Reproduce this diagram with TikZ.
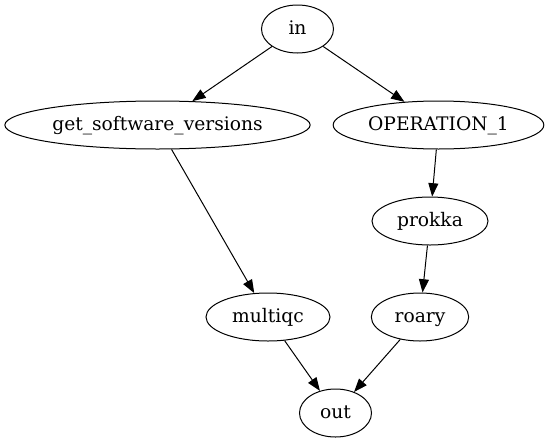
\documentclass[tikz,border=0pt]{standalone}
\usepackage{fontspec}
\setmainfont{DejaVu Serif}
\usepackage{tikz}
\usetikzlibrary{shapes.geometric,arrows.meta}
\tikzset{
  stage/.style={draw,ellipse,line width=0.75pt,inner sep=0pt,minimum height=36pt,
    text height=11pt,text depth=3.5pt,font=\fontsize{14}{17}\selectfont},
  flow/.style={-{Triangle[length=10pt,width=7.5pt]},line width=0.75pt}
}

\begin{document}
\begin{tikzpicture}[x=0.75pt,y=-0.75pt]
    \useasboundingbox (0,0) rectangle (549,443);
    \node[stage,minimum width=54pt] (in) at (297.5,29) {in};
    \node[stage,minimum width=229pt] (gsv) at (157.5,125) {get\_software\_versions};
    \node[stage,minimum width=158pt] (op) at (438.5,125) {OPERATION\_1};
    \node[stage,minimum width=87pt] (prokka) at (430,221) {prokka};
    \node[stage,minimum width=93pt] (multiqc) at (268,317) {multiqc};
    \node[stage,minimum width=73pt] (roary) at (420,317) {roary};
    \node[stage,minimum width=54pt] (out) at (335.5,413) {out};
    \draw[flow] (in) -- (gsv);
    \draw[flow] (in) -- (op);
    \draw[flow] (gsv) -- (multiqc);
    \draw[flow] (op) -- (prokka);
    \draw[flow] (prokka) -- (roary);
    \draw[flow] (multiqc) -- (out);
    \draw[flow] (roary) -- (out);
\end{tikzpicture}
\end{document}
